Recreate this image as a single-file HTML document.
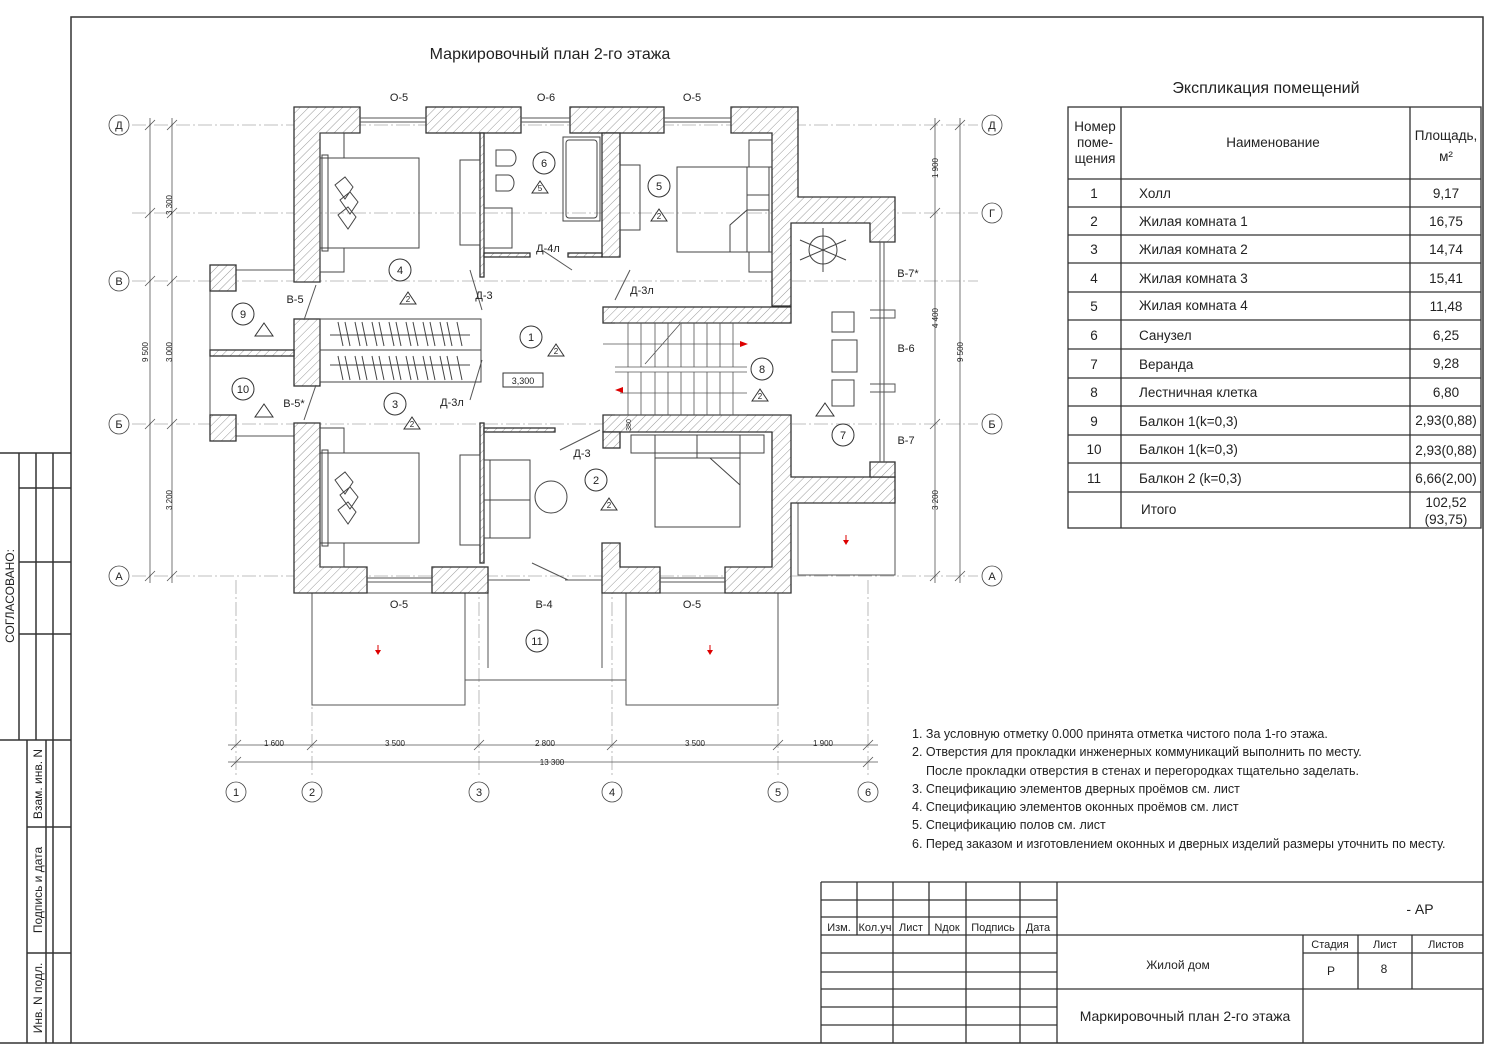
<!DOCTYPE html>
<html><head><meta charset="utf-8"><style>
body{margin:0;background:#fff}
svg{display:block}
text{font-family:"Liberation Sans",sans-serif;fill:#222}
</style></head><body>
<svg width="1500" height="1061" viewBox="0 0 1500 1061" xmlns="http://www.w3.org/2000/svg">
<defs>
<pattern id="h" width="6" height="6" patternUnits="userSpaceOnUse" patternTransform="rotate(45)">
<rect width="6" height="6" fill="#fff"/><line x1="0" y1="0" x2="0" y2="6" stroke="#999" stroke-width="1"/></pattern>
</defs>
<!-- frame -->
<g fill="none" stroke="#333" stroke-width="1.5">
<rect x="71" y="17" width="1412" height="1026"/>
<path d="M0 453H71M0 740H71M19 453V740M36 453V740M53 453V740M19 488H71M19 562H71M19 634H71"/>
<path d="M27 740V1043M46 740V1043M53 740V1043M27 827H71M27 953H71M0 1043H71"/>
</g>
<text transform="translate(14,596) rotate(-90)" font-size="12" text-anchor="middle">СОГЛАСОВАНО:</text>
<text transform="translate(42,784) rotate(-90)" font-size="12" text-anchor="middle">Взам. инв. N</text>
<text transform="translate(42,890) rotate(-90)" font-size="12" text-anchor="middle">Подпись и дата</text>
<text transform="translate(42,998) rotate(-90)" font-size="12" text-anchor="middle">Инв. N подл.</text>

<text x="550" y="59" font-size="16" text-anchor="middle">Маркировочный план 2-го этажа</text>
<text x="1266" y="93" font-size="16" text-anchor="middle">Экспликация помещений</text>

<!-- axes -->
<g stroke="#aaa" stroke-width="0.8" stroke-dasharray="14,3,2,3" fill="none">
<path d="M132 125H978M132 213H978M132 281H978M132 424H978M132 576H978"/>
<path d="M236 580V778M312 580V778M479 580V778M612 580V778M778 580V778M868 580V778"/>
</g>
<g fill="#fff" stroke="#444" stroke-width="0.8">
<circle cx="119" cy="125" r="10"/><circle cx="992" cy="125" r="10"/>
<circle cx="992" cy="213" r="10"/>
<circle cx="119" cy="281" r="10"/>
<circle cx="119" cy="424" r="10"/><circle cx="992" cy="424" r="10"/>
<circle cx="119" cy="576" r="10"/><circle cx="992" cy="576" r="10"/>
<circle cx="236" cy="792" r="10"/><circle cx="312" cy="792" r="10"/><circle cx="479" cy="792" r="10"/><circle cx="612" cy="792" r="10"/><circle cx="778" cy="792" r="10"/><circle cx="868" cy="792" r="10"/>
</g>
<g font-size="11" text-anchor="middle">
<text x="119" y="129">Д</text><text x="992" y="129">Д</text><text x="992" y="217">Г</text><text x="119" y="285">В</text>
<text x="119" y="428">Б</text><text x="992" y="428">Б</text><text x="119" y="580">А</text><text x="992" y="580">А</text>
<text x="236" y="796">1</text><text x="312" y="796">2</text><text x="479" y="796">3</text><text x="612" y="796">4</text><text x="778" y="796">5</text><text x="868" y="796">6</text>
</g>
<!-- dimension lines -->
<g stroke="#555" stroke-width="0.8" fill="none">
<path d="M150 118V583M172 118V583M935 118V583M960 118V583"/>
<path d="M228 745H878M228 762H878"/>
<path d="M145 130l10-10M167 130l10-10M145 218l10-10M167 218l10-10M145 286l10-10M167 286l10-10M145 429l10-10M167 429l10-10M145 581l10-10M167 581l10-10"/>
<path d="M930 130l10-10M955 130l10-10M930 218l10-10M930 429l10-10M930 581l10-10M955 581l10-10"/>
<path d="M231 750l10-10M307 750l10-10M474 750l10-10M607 750l10-10M773 750l10-10M863 750l10-10M231 767l10-10M863 767l10-10"/>
</g>
<g font-size="8">
<text transform="translate(172,205) rotate(-90)" text-anchor="middle">3 300</text>
<text transform="translate(172,352) rotate(-90)" text-anchor="middle">3 000</text>
<text transform="translate(172,500) rotate(-90)" text-anchor="middle">3 200</text>
<text transform="translate(148,352) rotate(-90)" text-anchor="middle">9 500</text>
<text transform="translate(938,168) rotate(-90)" text-anchor="middle">1 900</text>
<text transform="translate(938,318) rotate(-90)" text-anchor="middle">4 400</text>
<text transform="translate(938,500) rotate(-90)" text-anchor="middle">3 200</text>
<text transform="translate(963,352) rotate(-90)" text-anchor="middle">9 500</text>
<g text-anchor="middle"><text x="274" y="746">1 600</text><text x="395" y="746">3 500</text><text x="545" y="746">2 800</text><text x="695" y="746">3 500</text><text x="823" y="746">1 900</text><text x="552" y="765">13 300</text></g>
</g>

<!-- balconies outlines -->
<g fill="none" stroke="#555" stroke-width="1">
<rect x="312" y="593" width="153" height="112"/>
<rect x="626" y="593" width="152" height="112"/>
<path d="M465 680H626M488 593V668M602 593V668"/>
<rect x="798" y="503" width="97" height="72"/>
<path d="M210 265V441M236 270H294M236 436H294"/>
</g>
<!-- walls -->
<g fill="url(#h)" stroke="#333" stroke-width="1.3">
<path d="M294 107H360V133H320V282H294Z"/>
<rect x="426" y="107" width="95" height="26"/>
<rect x="570" y="107" width="94" height="26"/>
<path d="M731 107H798V197H895V242H870V223H791V306H772V133H731Z"/>
<path d="M294 423H320V567H367V593H294Z"/>
<rect x="432" y="567" width="56" height="26"/>
<path d="M602 543H620V567H660V593H602Z"/>
<path d="M725 567H772V432H603V415H791V477H895V503H791V593H725Z"/>
<rect x="870" y="462" width="25" height="15"/>
<rect x="603" y="307" width="188" height="16"/>
<rect x="603" y="432" width="17" height="16"/>
<rect x="602" y="133" width="18" height="124"/>
<rect x="294" y="319" width="26" height="67"/>
<rect x="210" y="265" width="26" height="26"/>
<rect x="210" y="415" width="26" height="26"/>
<rect x="210" y="350" width="84" height="6"/>
<rect x="480" y="133" width="4" height="144"/>
<rect x="484" y="253" width="46" height="4"/>
<rect x="568" y="253" width="34" height="4"/>
<rect x="480" y="423" width="4" height="140"/>
<rect x="484" y="428" width="71" height="4"/>
</g>
<!-- windows -->
<g stroke="#555" stroke-width="1" fill="none">
<path d="M360 118H426M360 122H426M521 118H570M521 122H570M664 118H731M664 122H731"/>
<path d="M367 578H432M367 582H432M660 578H725M660 582H725M488 580H530M565 580H602"/>
<path d="M880 242V462M884 242V462M870 310H895V318H870M870 384H895V392H870"/>
<path d="M532 563l36 17M572 270l-30-20M615 300l15-30M470 270l12 40M316 285l-12 35M470 400l12-40M316 385l-12 35M560 450l40-20"/>
</g>
<!-- wardrobe -->
<g stroke="#444" fill="none" stroke-width="1">
<rect x="320" y="319" width="161" height="63"/>
<path d="M320 350H481M330 335H470M330 365H470"/>
<path d="M338 322l5 24M345 322l5 24M355 322l5 24M362 322l5 24M372 322l5 24M379 322l5 24M389 322l5 24M396 322l5 24M406 322l5 24M413 322l5 24M423 322l5 24M430 322l5 24M440 322l5 24M447 322l5 24M457 322l5 24M338 356l5 24M345 356l5 24M355 356l5 24M362 356l5 24M372 356l5 24M379 356l5 24M389 356l5 24M396 356l5 24M406 356l5 24M413 356l5 24M423 356l5 24M430 356l5 24M440 356l5 24M447 356l5 24M457 356l5 24"/>
</g>
<!-- furniture -->
<g stroke="#444" fill="none" stroke-width="1">
<rect x="320" y="158" width="99" height="90"/><rect x="322" y="155" width="6" height="96"/>
<rect x="320" y="453" width="99" height="90"/><rect x="322" y="450" width="6" height="96"/>
<path d="M335 185l10-8 8 10-8 12zM340 200l10-8 8 10-8 12zM338 215l10-8 8 10-8 12zM335 480l10-8 8 10-8 12zM340 495l10-8 8 10-8 12zM338 510l10-8 8 10-8 12z"/>
<rect x="320" y="133" width="24" height="25"/><rect x="320" y="248" width="24" height="24"/>
<rect x="320" y="428" width="24" height="25"/><rect x="320" y="543" width="24" height="24"/>
<rect x="677" y="167" width="92" height="85"/><path d="M747 167V252M747 195H769M747 210H769M730 252V225L747 210"/>
<rect x="749" y="140" width="23" height="27"/><rect x="749" y="252" width="23" height="20"/>
<rect x="655" y="435" width="85" height="92"/><path d="M655 458H740M697 435V458M710 458L740 485"/>
<rect x="631" y="435" width="133" height="18"/>
<rect x="460" y="160" width="20" height="85"/><rect x="460" y="455" width="20" height="90"/>
<rect x="484" y="460" width="46" height="78"/><path d="M484 500H530M490 460V538"/>
<circle cx="551" cy="497" r="16"/>
<path d="M496 150h14a6 8 0 0 1 0 16h-14z"/><path d="M496 175h12a6 8 0 0 1 0 16h-12z"/><rect x="484" y="208" width="28" height="40"/>
<rect x="563" y="137" width="37" height="84"/><rect x="566" y="140" width="31" height="78" rx="3"/>
<rect x="620" y="165" width="20" height="65"/>
<circle cx="823" cy="250" r="14"/><path d="M800 240l46 20M800 260l46-20M823 228V272"/>
<path d="M832 312h22v20h-22zM832 340h25v32h-25zM832 380h22v26h-22z"/>
</g>
<!-- stairs -->
<g stroke="#555" fill="none" stroke-width="0.8">
<path d="M615 323H747M615 367H747M615 372H747M615 415H747"/>
<path d="M628 323V367M641 323V367M655 323V367M668 323V367M681 323V367M694 323V367M707 323V367M720 323V367M733 323V367M628 372V415M641 372V415M655 372V415M668 372V415M681 372V415M694 372V415M707 372V415M720 372V415M733 372V415"/>
<path d="M645 364l35-40M603 344H740M620 393H747"/>
</g>
<path d="M740 341l8 3-8 3z M615 390l8-3v6z" fill="#d00"/>
<path d="M378 645v8M710 645v8M846 535v8" stroke="#d00" stroke-width="1"/>
<path d="M375 650h6l-3 5zM707 650h6l-3 5zM843 540h6l-3 5z" fill="#d00"/>
<!-- room markers -->
<g fill="#fff" stroke="#333" stroke-width="1">
<circle cx="400" cy="270" r="11"/><circle cx="544" cy="163" r="11"/><circle cx="659" cy="186" r="11"/>
<circle cx="243" cy="314" r="11"/><circle cx="243" cy="389" r="11"/><circle cx="531" cy="337" r="11"/>
<circle cx="395" cy="404" r="11"/><circle cx="762" cy="369" r="11"/><circle cx="843" cy="435" r="11"/>
<circle cx="596" cy="480" r="11"/><circle cx="537" cy="641" r="11"/>
<path d="M408 292l8 12h-16zM540 181l8 12h-16zM659 209l8 12h-16zM264 323l9 13h-18zM264 404l9 13h-18zM556 344l8 12h-16zM412 417l8 12h-16zM760 389l8 12h-16zM825 403l9 13h-18zM609 498l8 12h-16z"/>
</g>
<g font-size="11" text-anchor="middle">
<text x="400" y="274">4</text><text x="544" y="167">6</text><text x="659" y="190">5</text><text x="243" y="318">9</text><text x="243" y="393">10</text>
<text x="531" y="341">1</text><text x="395" y="408">3</text><text x="762" y="373">8</text><text x="843" y="439">7</text><text x="596" y="484">2</text><text x="537" y="645">11</text>
<g font-size="8"><text x="408" y="302">2</text><text x="540" y="191">5</text><text x="659" y="219">2</text><text x="556" y="354">2</text><text x="412" y="427">2</text><text x="760" y="399">2</text><text x="609" y="508">2</text></g>
</g>
<rect x="503" y="373" width="40" height="14" fill="#fff" stroke="#333"/>
<text x="523" y="384" font-size="9" text-anchor="middle">3,300</text>
<g font-size="11" text-anchor="middle">
<text x="399" y="101">О-5</text><text x="546" y="101">О-6</text><text x="692" y="101">О-5</text>
<text x="399" y="608">О-5</text><text x="544" y="608">В-4</text><text x="692" y="608">О-5</text>
<text x="295" y="303">В-5</text><text x="294" y="407">В-5*</text><text x="484" y="299">Д-3</text><text x="548" y="252">Д-4л</text>
<text x="642" y="294">Д-3л</text><text x="452" y="406">Д-3л</text><text x="582" y="457">Д-3</text>
<text x="908" y="277">В-7*</text><text x="906" y="352">В-6</text><text x="906" y="444">В-7</text>
</g>
<text transform="translate(631,425) rotate(-90)" font-size="7" text-anchor="middle">380</text>

<!-- table -->
<g fill="none" stroke="#333" stroke-width="1.3">
<rect x="1068" y="107" width="413" height="421"/>
<path d="M1121 107V528M1410 107V528"/>
<path d="M1068 179H1481M1068 207H1481M1068 235H1481M1068 263H1481M1068 292H1481M1068 320H1481M1068 349H1481M1068 378H1481M1068 406H1481M1068 435H1481M1068 463H1481M1068 492H1481"/>
</g>
<g font-size="13.5">
<text x="1095" y="131" text-anchor="middle">Номер</text><text x="1095" y="147" text-anchor="middle">поме-</text><text x="1095" y="163" text-anchor="middle">щения</text>
<text x="1273" y="147" text-anchor="middle">Наименование</text>
<text x="1446" y="140" text-anchor="middle">Площадь,</text><text x="1446" y="161" text-anchor="middle">м²</text>
<g text-anchor="middle"><text x="1094" y="198">1</text><text x="1094" y="226">2</text><text x="1094" y="254">3</text><text x="1094" y="283">4</text><text x="1094" y="311">5</text><text x="1094" y="340">6</text><text x="1094" y="369">7</text><text x="1094" y="397">8</text><text x="1094" y="426">9</text><text x="1094" y="454">10</text><text x="1094" y="483">11</text></g>
<g><text x="1139" y="198">Холл</text><text x="1139" y="226">Жилая комната 1</text><text x="1139" y="254">Жилая комната 2</text><text x="1139" y="283">Жилая комната 3</text><text x="1139" y="310">Жилая комната 4</text><text x="1139" y="340">Санузел</text><text x="1139" y="369">Веранда</text><text x="1139" y="397">Лестничная клетка</text><text x="1139" y="426">Балкон 1(k=0,3)</text><text x="1139" y="454">Балкон 1(k=0,3)</text><text x="1139" y="483">Балкон 2 (k=0,3)</text><text x="1141" y="514">Итого</text></g>
<g text-anchor="middle"><text x="1446" y="198">9,17</text><text x="1446" y="226">16,75</text><text x="1446" y="254">14,74</text><text x="1446" y="283">15,41</text><text x="1446" y="311">11,48</text><text x="1446" y="340">6,25</text><text x="1446" y="368">9,28</text><text x="1446" y="397">6,80</text><text x="1446" y="425">2,93(0,88)</text><text x="1446" y="455">2,93(0,88)</text><text x="1446" y="483">6,66(2,00)</text><text x="1446" y="507">102,52</text><text x="1446" y="524">(93,75)</text></g>
</g>

<!-- notes -->
<g font-size="12.5">
<text x="912" y="738">1. За условную отметку 0.000 принята отметка чистого пола 1-го этажа.</text>
<text x="912" y="756">2. Отверстия для прокладки инженерных коммуникаций выполнить по месту.</text>
<text x="926" y="775">После прокладки отверстия в стенах и перегородках тщательно заделать.</text>
<text x="912" y="793">3. Спецификацию элементов дверных проёмов см. лист</text>
<text x="912" y="811">4. Спецификацию элементов оконных проёмов см. лист</text>
<text x="912" y="829">5. Спецификацию полов см. лист</text>
<text x="912" y="848">6. Перед заказом и изготовлением оконных и дверных изделий размеры уточнить по месту.</text>
</g>

<!-- title block -->
<g fill="none" stroke="#333" stroke-width="1.3">
<path d="M821 882H1483M821 882V1043M1057 882V1043"/>
<path d="M821 900H1057M821 917H1057M821 935H1483M821 953H1057M821 972H1057M821 989H1483M821 1007H1057M821 1025H1057"/>
<path d="M857 882V935M929 882V935M893 882V1043M966 882V1043M1020 882V1043"/>
<path d="M1303 935V1043M1358 935V989M1412 935V989M1303 953H1483"/>
</g>
<g font-size="11" text-anchor="middle">
<text x="839" y="931">Изм.</text><text x="875" y="931">Кол.уч</text><text x="911" y="931">Лист</text><text x="947" y="931">Nдок</text><text x="993" y="931">Подпись</text><text x="1038" y="931">Дата</text>
<text x="1330" y="948">Стадия</text><text x="1385" y="948">Лист</text><text x="1446" y="948">Листов</text>
<text x="1331" y="975" font-size="12">Р</text><text x="1384" y="973" font-size="12">8</text>
<text x="1178" y="969" font-size="12">Жилой дом</text>
<text x="1185" y="1021" font-size="14">Маркировочный план 2-го этажа</text>
<text x="1420" y="914" font-size="14">- АР</text>
</g>
</svg>
</body></html>
